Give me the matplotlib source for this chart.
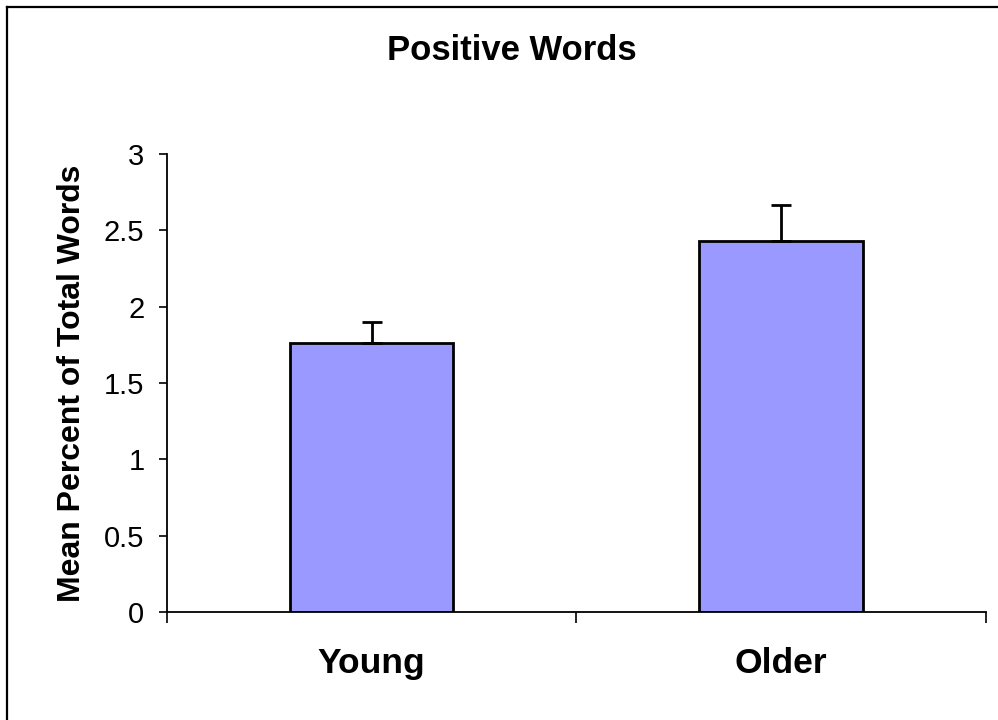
import matplotlib
matplotlib.use("Agg")
import matplotlib.pyplot as plt
from matplotlib.lines import Line2D

plt.rcParams['font.family'] = ['Liberation Sans', 'DejaVu Sans']

# data
groups = ["Young", "Older"]
means = [1.76, 2.43]
errors = [0.14, 0.235]
yticks = [0, 0.5, 1, 1.5, 2, 2.5, 3]
ytick_labels = ["0", "0.5", "1", "1.5", "2", "2.5", "3"]

W, H = 998, 720
fig = plt.figure(figsize=(W / 100, H / 100), dpi=100)
ax = fig.add_axes([166.7 / W, 1 - 612 / H, (986 - 166.7) / W, (612 - 154) / H])

x = list(range(len(groups)))
ax.bar(x, means, width=0.4, color="#9999FF", edgecolor="black", linewidth=2, zorder=2)
ax.errorbar(x, means, yerr=[[0] * len(errors), errors], fmt="none",
            ecolor="black", elinewidth=2, capsize=7.5, capthick=2, zorder=3)

ax.set_xlim(-0.5, 1.5)
ax.set_ylim(0, 3)
ax.set_yticks(yticks)
ax.set_yticklabels(ytick_labels, fontsize=21)
ax.set_xticks(x)
ax.set_xticklabels(groups, fontsize=25.5, fontweight="bold")
ax.set_xticks([-0.5, 0.5, 1.5], minor=True)
ax.tick_params(axis="x", which="major", length=0, pad=25)
ax.tick_params(axis="x", which="minor", length=8, width=1.2, direction="out")
ax.tick_params(axis="y", length=6, width=1.2, direction="out", pad=10)

for s in ["top", "right"]:
    ax.spines[s].set_visible(False)
for s in ["left", "bottom"]:
    ax.spines[s].set_linewidth(1.3)

ax.set_ylabel("Mean Percent of Total Words", fontsize=23, fontweight="bold", labelpad=12)

fig.text(512 / W, 1 - 60 / H, "Positive Words", ha="center", va="baseline",
         fontsize=24.9, fontweight="bold")

# frame around the chart area (only top and left visible)
fig.add_artist(Line2D([7 / W, 1], [1 - 7 / H, 1 - 7 / H], color="black", lw=1.6,
                      transform=fig.transFigure))
fig.add_artist(Line2D([7 / W, 7 / W], [0, 1 - 7 / H], color="black", lw=1.6,
                      transform=fig.transFigure))

fig.savefig("out.png", dpi=100)
